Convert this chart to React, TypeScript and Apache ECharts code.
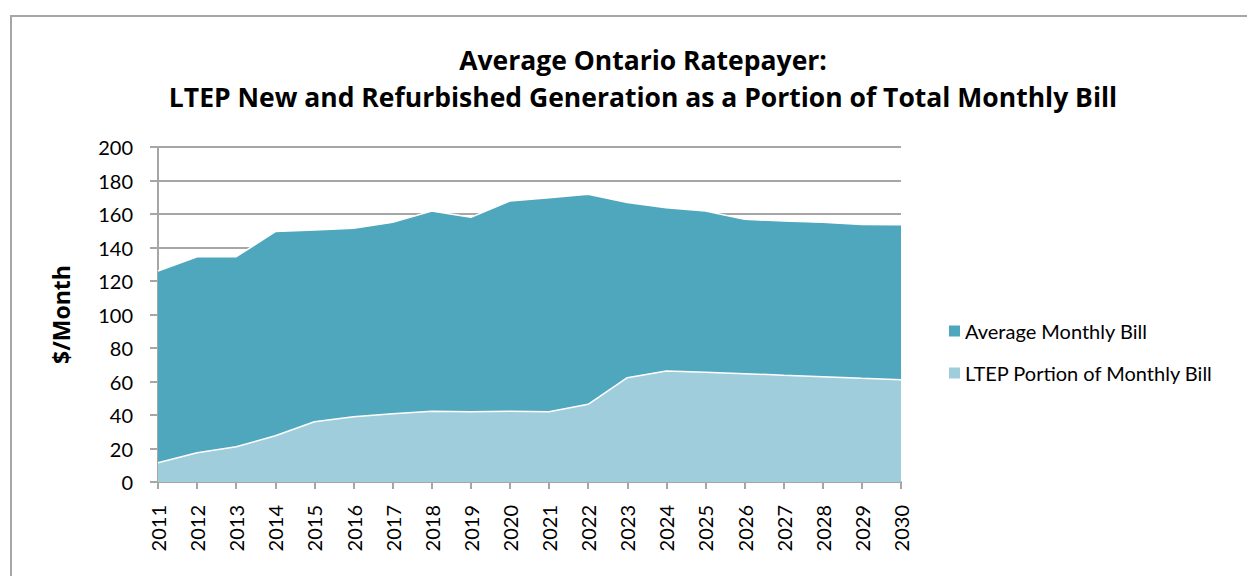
import React, { useEffect, useRef } from "react";
import * as echarts from "echarts";

const years = ["2011","2012","2013","2014","2015","2016","2017","2018","2019","2020","2021","2022","2023","2024","2025","2026","2027","2028","2029","2030"];
const averageBill = [126, 134.5, 134.5, 149.5, 150.5, 151.5, 155, 161.8, 158, 167.8, 169.7, 171.8, 166.8, 163.8, 161.8, 156.8, 155.8, 155, 153.8, 153.6];
const ltepPortion = [11.5, 17.5, 21, 27.6, 36, 39, 40.8, 42.2, 42, 42.2, 42, 46.4, 62.3, 66.3, 65.5, 64.7, 63.7, 62.9, 61.9, 61.1];
const titleLines = ["Average Ontario Ratepayer:", "LTEP New and Refurbished Generation as a Portion of Total Monthly Bill"];

const FONT = "Lato, 'Open Sans', sans-serif";
const BOLDFONT = "'Open Sans', Lato, sans-serif";
const DARK = "#4FA7BE";
const LIGHT = "#A0CDDC";
const GRAY = "#A6A6A6";

export default function App() {
  const ref = useRef<HTMLDivElement>(null);
  useEffect(() => {
    if (!ref.current) return;
    const chart = echarts.init(ref.current, null, { renderer: "svg" });
    chart.setOption({
      animation: false,
      backgroundColor: "#ffffff",
      graphic: [
        {
          type: "rect",
          shape: { x: 11, y: 16, width: 1300, height: 700 },
          style: { fill: "none", stroke: "#A6A6A6", lineWidth: 2 },
          silent: true,
        },
      ],
      title: {
        text: titleLines.join("\n"),
        left: 638,
        textAlign: "center",
        top: 36,
        textStyle: { fontFamily: BOLDFONT, fontSize: 26.5, fontWeight: "bold", color: "#000", lineHeight: 37 },
      },
      legend: {
        orient: "vertical",
        left: 944,
        top: 316,
        itemGap: 22,
        itemWidth: 11,
        itemHeight: 11,
        icon: "rect",
        textStyle: { fontFamily: FONT, fontSize: 20, color: "#000" },
        data: [
          { name: "Average Monthly Bill", itemStyle: { color: DARK } },
          { name: "LTEP Portion of Monthly Bill", itemStyle: { color: LIGHT } },
        ],
      },
      grid: { left: 158, right: 346, top: 147, bottom: 94, containLabel: false },
      xAxis: {
        type: "category",
        data: years,
        boundaryGap: false,
        axisLine: { lineStyle: { color: GRAY, width: 2 } },
        axisTick: { show: true, length: 7, lineStyle: { color: GRAY, width: 2 }, alignWithLabel: true },
        axisLabel: { rotate: 90, fontFamily: FONT, fontSize: 20, color: "#000", margin: 23 },
        splitLine: { show: false },
      },
      yAxis: {
        type: "value",
        min: 0,
        max: 200,
        interval: 20,
        name: "$/Month",
        nameLocation: "middle",
        nameGap: 86,
        nameRotate: 90,
        nameTextStyle: { fontFamily: BOLDFONT, fontSize: 23, fontWeight: "bold", color: "#000" },
        axisLine: { show: true, lineStyle: { color: GRAY, width: 2 } },
        axisTick: { show: true, length: 8, lineStyle: { color: GRAY, width: 2 } },
        axisLabel: { fontFamily: FONT, fontSize: 20, color: "#000", margin: 25 },
        splitLine: { show: true, lineStyle: { color: GRAY, width: 2 } },
      },
      series: [
        {
          name: "Average Monthly Bill",
          type: "line",
          data: averageBill,
          symbol: "none",
          z: 2,
          itemStyle: { color: DARK },
          lineStyle: { color: "#ffffff", width: 1.5 },
          areaStyle: { color: DARK, opacity: 1 },
        },
        {
          name: "LTEP Portion of Monthly Bill",
          type: "line",
          data: ltepPortion,
          symbol: "none",
          z: 3,
          itemStyle: { color: LIGHT },
          lineStyle: { color: "#ffffff", width: 1.5 },
          areaStyle: { color: LIGHT, opacity: 1 },
        },
      ],
    });
    return () => chart.dispose();
  }, []);
  return <div ref={ref} style={{ position: "absolute", left: 0, top: 0, width: 1247, height: 576 }} />;
}
